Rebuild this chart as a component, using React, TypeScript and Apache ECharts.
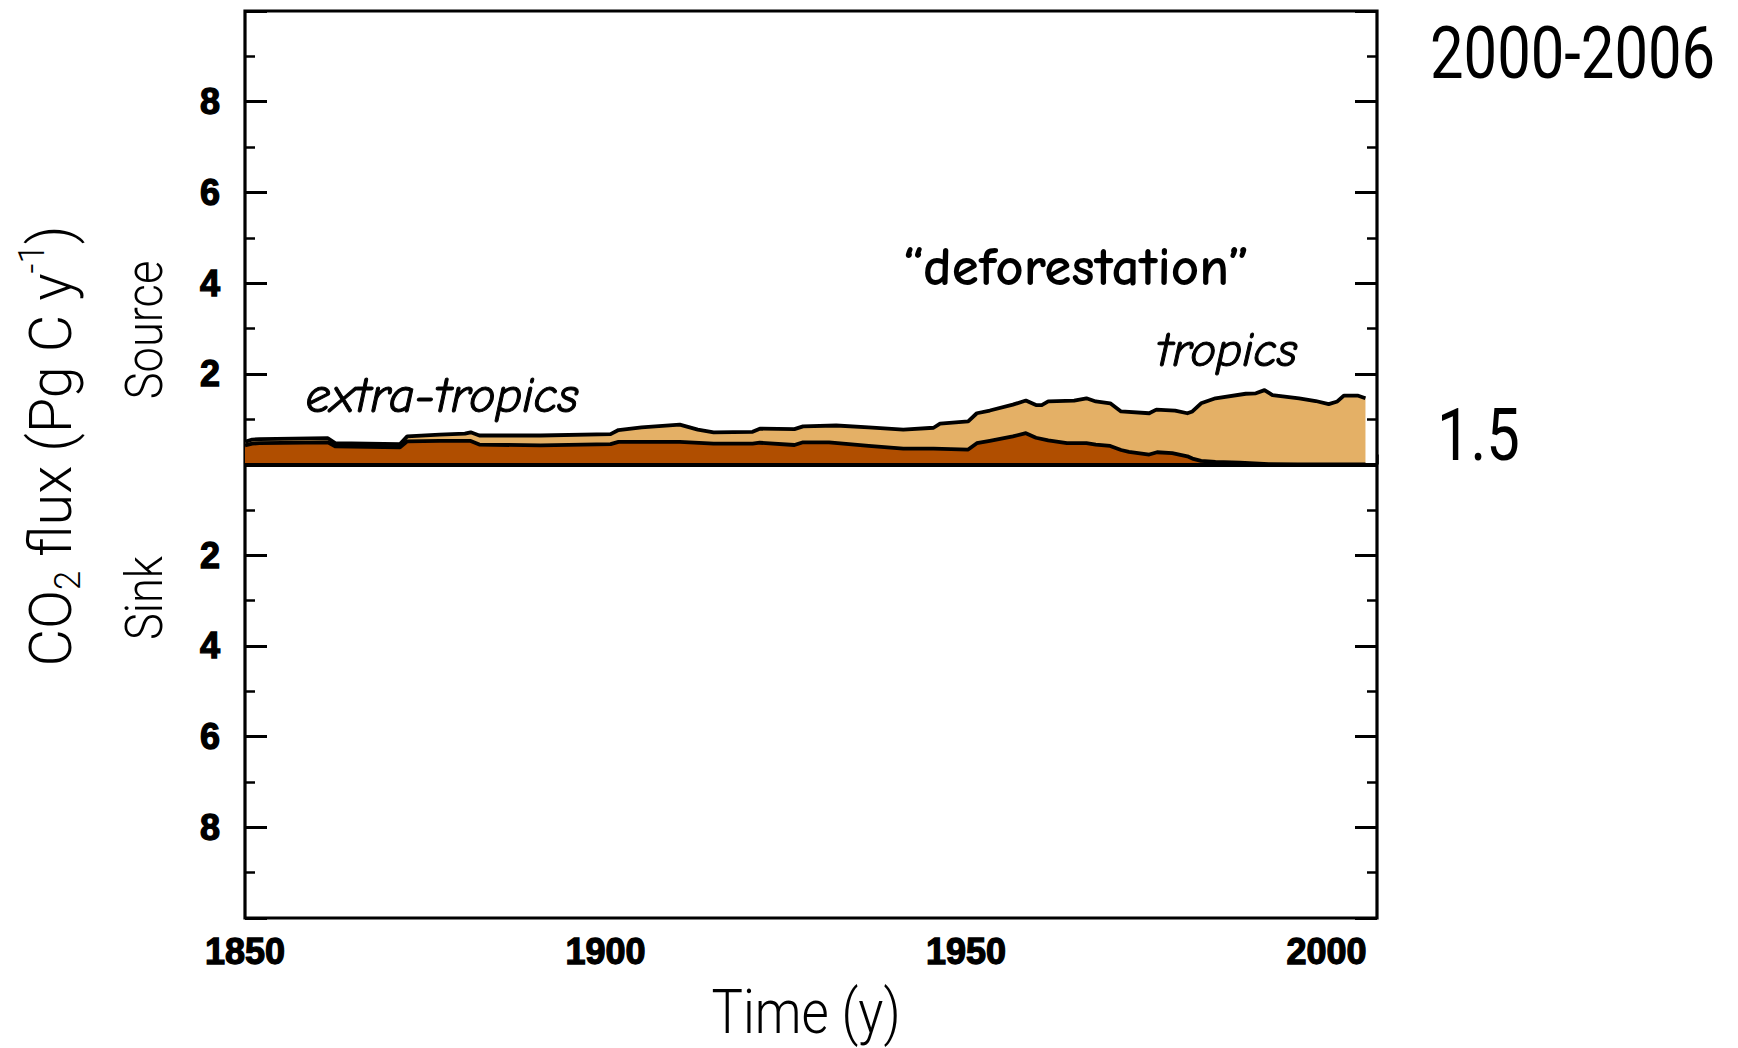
import React, { useEffect, useRef } from "react";
import * as echarts from "echarts";

// Total land-use flux (top of the light area), Pg C / y
const totalYears = [
  1850, 1851, 1852, 1861.5, 1862.5, 1871.5, 1872.5, 1877, 1880.5, 1881.3, 1882.5, 1891,
  1900.7, 1901.8, 1905, 1910.3, 1912.8, 1915, 1920.4, 1921.4, 1926.2, 1927.4, 1932, 1936.5,
  1941.3, 1945.5, 1946.4, 1950.3, 1951.5, 1953.3, 1956.5, 1958.3, 1959.7, 1960.5, 1961.4,
  1965, 1966.7, 1968, 1970, 1971.5, 1975.4, 1976.4, 1979, 1980.7, 1981.4, 1982.6, 1984.6,
  1988.8, 1990.2, 1991.4, 1992.5, 1996.2, 1998.5, 2000.3, 2001.5, 2002.4, 2004.3, 2005.4,
];
const totalValues = [
  0.5, 0.55, 0.56, 0.58, 0.47, 0.45, 0.62, 0.66, 0.68, 0.71, 0.64, 0.64,
  0.67, 0.76, 0.82, 0.88, 0.77, 0.71, 0.72, 0.79, 0.78, 0.84, 0.86, 0.82,
  0.77, 0.81, 0.9, 0.95, 1.13, 1.19, 1.32, 1.41, 1.31, 1.31, 1.39,
  1.41, 1.46, 1.39, 1.35, 1.17, 1.13, 1.21, 1.19, 1.13, 1.17, 1.35, 1.46,
  1.56, 1.57, 1.64, 1.53, 1.46, 1.4, 1.33, 1.39, 1.52, 1.52, 1.46,
];

// Extra-tropics flux (dark area), Pg C / y
const extraYears = [
  1850, 1851, 1852, 1861.5, 1862.5, 1871.5, 1872.5, 1877, 1881.3, 1882.5, 1891, 1900.7,
  1901.8, 1910.3, 1915, 1920.4, 1921.4, 1926.2, 1927.4, 1931, 1936.5, 1941.3, 1945.5,
  1950.3, 1951.5, 1953.3, 1956.5, 1958.3, 1959.7, 1961.4, 1964, 1966.7, 1968, 1970,
  1971.5, 1972.6, 1975.4, 1976.5, 1978.6, 1980.7, 1981.4, 1982.6, 1984.6, 1988, 1992,
  1996, 2005.4,
];
const extraValues = [
  0.42, 0.46, 0.47, 0.49, 0.4, 0.38, 0.51, 0.52, 0.52, 0.44, 0.42, 0.45,
  0.5, 0.5, 0.46, 0.46, 0.48, 0.43, 0.49, 0.49, 0.41, 0.35, 0.35,
  0.33, 0.47, 0.52, 0.62, 0.69, 0.59, 0.53, 0.47, 0.47, 0.44, 0.41,
  0.32, 0.28, 0.22, 0.27, 0.25, 0.18, 0.13, 0.08, 0.06, 0.04, 0.01,
  0, 0,
];

const xMin = 1850;
const xMax = 2007;
const yMin = -10;
const yMax = 10;

const TITLE_FONT = 'Roboto, "Noto Sans", "DejaVu Sans", sans-serif';
const TICK_FONT = '"Liberation Sans", Arial, sans-serif';
const NOTE_FONT = '"Comic Sans MS", "Comic Neue", "DejaVu Sans", sans-serif';

export default function App() {
  const ref = useRef<HTMLDivElement>(null);

  useEffect(() => {
    if (!ref.current) return;
    const chart = echarts.init(ref.current, null, { renderer: "svg" });

    const totalData = totalYears.map((y, i) => [y, totalValues[i]]);
    const extraData = extraYears.map((y, i) => [y, extraValues[i]]);

    const yLabel = (v: number) =>
      v === 0 || Math.abs(v) === 10 ? "" : String(Math.abs(v));

    const tickLabelStyle = {
      color: "#000",
      fontFamily: TICK_FONT,
      fontWeight: "bold",
      fontSize: 36,
      textBorderColor: "#000",
      textBorderWidth: 1.3,
    };

    const option: any = {
      animation: false,
      backgroundColor: "#ffffff",
      grid: {
        left: 245,
        top: 11,
        width: 1132,
        height: 907,
        show: true,
        borderColor: "#000",
        borderWidth: 3.2,
        backgroundColor: "transparent",
      },
      xAxis: [
        {
          type: "value",
          min: xMin,
          max: xMax,
          interval: 50,
          position: "bottom",
          axisLine: { show: false },
          axisTick: { show: true, inside: true, length: 22, lineStyle: { color: "#000", width: 3 } },
          axisLabel: {
            ...tickLabelStyle,
            show: true,
            margin: 15,
            showMaxLabel: false,
            formatter: (v: number) => String(v),
          },
          splitLine: { show: false },
        },
        {
          type: "value",
          min: xMin,
          max: xMax,
          interval: 5,
          position: "bottom",
          axisLine: { show: false },
          axisTick: { show: true, inside: true, length: 10, lineStyle: { color: "#000", width: 2.5 } },
          axisLabel: { show: false },
          splitLine: { show: false },
        },
      ],
      yAxis: [
        {
          type: "value",
          min: yMin,
          max: yMax,
          interval: 2,
          position: "left",
          axisLine: { show: false },
          axisTick: { show: true, inside: true, length: 22, lineStyle: { color: "#000", width: 3 } },
          minorTick: { show: true, splitNumber: 2, length: 10, lineStyle: { color: "#000", width: 2.5 } },
          axisLabel: {
            ...tickLabelStyle,
            margin: 25,
            formatter: yLabel,
          },
          splitLine: { show: false },
          minorSplitLine: { show: false },
        },
        {
          type: "value",
          min: yMin,
          max: yMax,
          interval: 2,
          position: "right",
          axisLine: { show: false },
          axisTick: { show: true, inside: true, length: 22, lineStyle: { color: "#000", width: 3 } },
          minorTick: { show: true, splitNumber: 2, length: 10, lineStyle: { color: "#000", width: 2.5 } },
          axisLabel: { show: false },
          splitLine: { show: false },
          minorSplitLine: { show: false },
        },
      ],
      series: [
        {
          name: "tropics",
          type: "line",
          xAxisIndex: 0,
          yAxisIndex: 0,
          data: totalData,
          symbol: "none",
          lineStyle: { color: "#000", width: 3.8, join: "round" },
          areaStyle: { color: "#E4B066", opacity: 1 },
          z: 2,
        },
        {
          name: "extra-tropics",
          type: "line",
          xAxisIndex: 0,
          yAxisIndex: 0,
          data: extraData,
          symbol: "none",
          lineStyle: { color: "#000", width: 3.8, join: "round" },
          areaStyle: { color: "#B04E00", opacity: 1 },
          z: 3,
          markLine: {
            silent: true,
            symbol: ["none", "none"],
            label: { show: false },
            lineStyle: { color: "#000", width: 3.8, type: "solid" },
            data: [{ yAxis: 0 }],
          },
        },
      ],
      graphic: [
        {
          type: "text",
          x: 50,
          y: 446,
          rotation: Math.PI / 2,
          scaleX: 0.96,
          style: {
            text: "{a|CO}{s|2}{a| flux (Pg C y}{p|-1}{a|)}",
            align: "center",
            verticalAlign: "middle",
            fill: "#000",
            rich: {
              a: { fontFamily: TITLE_FONT, fontWeight: 300, fontSize: 60, lineHeight: 72, fill: "#000" },
              s: { fontFamily: TITLE_FONT, fontWeight: 300, fontSize: 36, lineHeight: 40, verticalAlign: "bottom", fill: "#000" },
              p: { fontFamily: TITLE_FONT, fontWeight: 300, fontSize: 36, lineHeight: 40, verticalAlign: "top", fill: "#000" },
            },
          },
        },
        {
          type: "text",
          x: 144,
          y: 330,
          rotation: Math.PI / 2,
          scaleX: 0.87,
          style: {
            text: "Source",
            align: "center",
            verticalAlign: "middle",
            fill: "#000",
            fontFamily: TITLE_FONT,
            fontWeight: 300,
            fontSize: 52,
          },
        },
        {
          type: "text",
          x: 144,
          y: 598,
          rotation: Math.PI / 2,
          scaleX: 0.87,
          style: {
            text: "Sink",
            align: "center",
            verticalAlign: "middle",
            fill: "#000",
            fontFamily: TITLE_FONT,
            fontWeight: 300,
            fontSize: 52,
          },
        },
        {
          type: "text",
          x: 806,
          y: 1012,
          scaleX: 0.85,
          style: {
            text: "Time (y)",
            align: "center",
            verticalAlign: "middle",
            fill: "#000",
            fontFamily: TITLE_FONT,
            fontWeight: 300,
            fontSize: 62,
          },
        },
        {
          type: "text",
          x: 1430,
          y: 54,
          scaleX: 0.83,
          style: {
            text: "2000-2006",
            align: "left",
            verticalAlign: "middle",
            fill: "#000",
            fontFamily: TITLE_FONT,
            fontWeight: 400,
            fontSize: 72,
          },
        },
        {
          type: "text",
          x: 1437,
          y: 436,
          scaleX: 0.83,
          style: {
            text: "1.5",
            align: "left",
            verticalAlign: "middle",
            fill: "#000",
            fontFamily: TITLE_FONT,
            fontWeight: 400,
            fontSize: 72,
          },
        },
        {
          type: "text",
          x: 1076,
          y: 267,
          scaleX: 1.0,
          style: {
            text: "\u201Cdeforestation\u201D",
            align: "center",
            verticalAlign: "middle",
            fill: "#000",
            fontFamily: NOTE_FONT,
            fontWeight: "bold",
            fontSize: 55,
          },
        },
        {
          type: "text",
          x: 442,
          y: 396,
          style: {
            text: "extra-tropics",
            align: "center",
            verticalAlign: "middle",
            fill: "#000",
            fontFamily: NOTE_FONT,
            fontStyle: "italic",
            fontSize: 50,
            stroke: "#000",
            lineWidth: 1,
          },
        },
        {
          type: "text",
          x: 1227,
          y: 350,
          style: {
            text: "tropics",
            align: "center",
            verticalAlign: "middle",
            fill: "#000",
            fontFamily: NOTE_FONT,
            fontStyle: "italic",
            fontSize: 49,
            stroke: "#000",
            lineWidth: 1,
          },
        },
      ],
    };

    chart.setOption(option);
    return () => chart.dispose();
  }, []);

  return (
    <div
      ref={ref}
      style={{ position: "fixed", left: 0, top: 0, width: 1738, height: 1048, background: "#fff" }}
    />
  );
}
